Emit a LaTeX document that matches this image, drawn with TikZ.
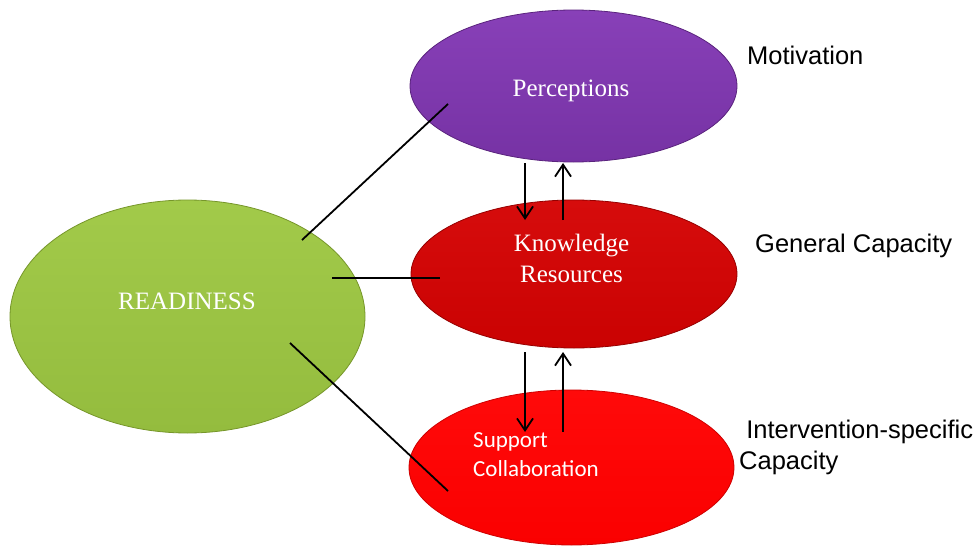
\documentclass[tikz,border=0pt]{standalone}
\usepackage{fontspec}
\setmainfont{Liberation Serif}
\newfontfamily\arialf{Liberation Sans}
\newfontfamily\calibrif{Carlito}
\usetikzlibrary{shapes.geometric,arrows.meta}
\definecolor{purpTop}{RGB}{136,64,184}
\definecolor{purpBot}{RGB}{118,50,164}
\definecolor{purpEdge}{RGB}{90,35,125}
\definecolor{kredTop}{RGB}{214,12,12}
\definecolor{kredBot}{RGB}{202,2,2}
\definecolor{kredEdge}{RGB}{150,0,0}
\definecolor{bredTop}{RGB}{255,10,10}
\definecolor{bredBot}{RGB}{250,0,0}
\definecolor{bredEdge}{RGB}{205,0,0}
\definecolor{grnTop}{RGB}{162,202,74}
\definecolor{grnBot}{RGB}{148,188,62}
\definecolor{grnEdge}{RGB}{118,150,42}
\tikzset{
  blob/.style={ellipse, inner sep=0pt, line width=0.8pt},
  serifw/.style={text=white, font=\fontsize{25}{31}\selectfont, inner sep=0pt},
  calw/.style={text=white, font=\calibrif\fontsize{23}{29}\selectfont, inner sep=0pt, align=left},
  side/.style={text=black, font=\arialf\fontsize{25.5}{31}\selectfont, inner sep=0pt, align=left},
  link/.style={line width=1.8pt, black},
  flow/.style={line width=1.8pt, black, -{Straight Barb[length=12pt,width=16pt,line width=1.8pt]}}
}
\begin{document}
\begin{tikzpicture}[x=1pt,y=-1pt]
\useasboundingbox (0,0) rectangle (978,546);
% ellipses
\node[blob, draw=grnEdge, top color=grnTop, bottom color=grnBot, minimum width=355pt, minimum height=233pt] (ready) at (187.5,316.5) {};
\node[blob, draw=purpEdge, top color=purpTop, bottom color=purpBot, minimum width=327pt, minimum height=152pt] (perc) at (573.5,86) {};
\node[blob, draw=kredEdge, top color=kredTop, bottom color=kredBot, minimum width=326pt, minimum height=148pt] (know) at (574,274) {};
\node[blob, draw=bredEdge, top color=bredTop, bottom color=bredBot, minimum width=325pt, minimum height=155pt] (supp) at (571.5,467.5) {};
% texts
\node[serifw, anchor=base] (tperc) at (571,96) {Perceptions};
\node[serifw, anchor=base] (tready) at (187,309) {READINESS};
\node[serifw, align=center] (tknow) at (571.5,258) {Knowledge\\Resources};
\node[calw, anchor=west] (tsupp) at (473,455) {Support\\Collaboration};
\node[side, anchor=base west] (lmot) at (747,64) {Motivation};
\node[side, anchor=base west] (lgen) at (755,252) {General Capacity};
\node[side, anchor=west] (lint) at (739,447) {~Intervention-specific\\Capacity};
% connector ends
\coordinate (g1) at (302,240);
\coordinate (p1) at (448,104);
\coordinate (g2) at (332,278);
\coordinate (k1) at (440,278);
\coordinate (g3) at (290,343);
\coordinate (s1) at (448,491);
\coordinate (pd) at (525,163);
\coordinate (kd) at (525,220);
\coordinate (ku) at (563,220);
\coordinate (pu) at (563,163);
\coordinate (kd2) at (525,352);
\coordinate (sd) at (525,432);
\coordinate (su) at (563,432);
\coordinate (ku2) at (563,352);
\draw[link] (g1) -- (p1);
\draw[link] (g2) -- (k1);
\draw[link] (g3) -- (s1);
\draw[flow] (pd) -- (kd);
\draw[flow] (ku) -- (pu);
\draw[flow] (kd2) -- (sd);
\draw[flow] (su) -- (ku2);
\end{tikzpicture}
\end{document}
